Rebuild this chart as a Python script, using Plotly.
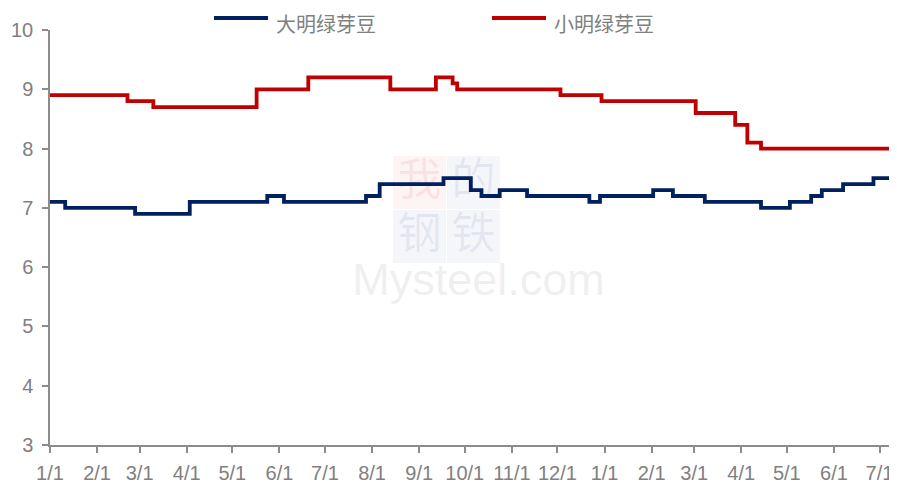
import plotly.graph_objects as go

# ---- data ----
big_dates = ["2022-01-01", "2022-01-11", "2022-02-26", "2022-04-03", "2022-05-24", "2022-06-04",
             "2022-07-28", "2022-08-06", "2022-09-17", "2022-10-05", "2022-10-12", "2022-10-24",
             "2022-11-11", "2022-12-22", "2022-12-29", "2023-02-02", "2023-02-15", "2023-03-08",
             "2023-04-14", "2023-05-03", "2023-05-17", "2023-05-24", "2023-06-07", "2023-06-27",
             "2023-07-12"]
big_values = [7.1, 7.0, 6.9, 7.1, 7.2, 7.1,
              7.2, 7.4, 7.5, 7.3, 7.2, 7.3,
              7.2, 7.1, 7.2, 7.3, 7.2, 7.1,
              7.0, 7.1, 7.2, 7.3, 7.4, 7.5,
              7.5]

small_dates = ["2022-01-01", "2022-02-21", "2022-03-10", "2022-05-17", "2022-06-20", "2022-08-13",
               "2022-09-12", "2022-09-23", "2022-09-26", "2022-12-03", "2022-12-30", "2023-03-02",
               "2023-03-28", "2023-04-05", "2023-04-14", "2023-07-12"]
small_values = [8.9, 8.8, 8.7, 9.0, 9.2, 9.0,
                9.2, 9.1, 9.0, 8.9, 8.8, 8.6,
                8.4, 8.1, 8.0, 8.0]

series_names = ["大明绿芽豆", "小明绿芽豆"]
series_colors = ["#002060", "#C00000"]

tick_dates = ["2022-01-01", "2022-02-01", "2022-03-01", "2022-04-01", "2022-05-01", "2022-06-01",
              "2022-07-01", "2022-08-01", "2022-09-01", "2022-10-01", "2022-11-01", "2022-12-01",
              "2023-01-01", "2023-02-01", "2023-03-01", "2023-04-01", "2023-05-01", "2023-06-01",
              "2023-07-01"]
tick_labels = ["1/1", "2/1", "3/1", "4/1", "5/1", "6/1", "7/1", "8/1", "9/1", "10/1", "11/1", "12/1",
               "1/1", "2/1", "3/1", "4/1", "5/1", "6/1", "7/1"]

x_range = ["2022-01-01", "2023-07-12 12:00"]
y_range = [3, 10]

GRAY = "#808080"
OFF = 8                      # default page body margin
W, H = 897 - OFF, 487 - OFF
L, T = 50 - OFF, 30 - OFF
B = H - (445 - OFF)
PW, PH = W - L, H - T - B


def px_x(p):                 # window pixel -> paper x
    return (p - OFF - L) / PW


def px_y(p):                 # window pixel -> paper y
    return (H - B - (p - OFF)) / PH


fig = go.Figure()
fig.add_trace(go.Scatter(x=big_dates, y=big_values, mode="lines", name=series_names[0],
                         line=dict(color=series_colors[0], width=3.8, shape="hv")))
fig.add_trace(go.Scatter(x=small_dates, y=small_values, mode="lines", name=series_names[1],
                         line=dict(color=series_colors[1], width=3.8, shape="hv")))

# faint watermark (below traces)
wm = [
    ("我", 0, 0, "rgba(230,60,60,0.06)", "rgba(230,60,60,0.10)"),
    ("的", 1, 0, "rgba(60,80,150,0.05)", "rgba(60,80,150,0.09)"),
    ("钢", 0, 1, "rgba(60,80,150,0.05)", "rgba(60,80,150,0.09)"),
    ("铁", 1, 1, "rgba(60,80,150,0.05)", "rgba(60,80,150,0.09)"),
]
x0p, y0p, cell = 393, 156, 54
for ch, cx, cy, fill, tc in wm:
    xa = x0p + cx * cell
    ya = y0p + cy * cell
    fig.add_shape(type="rect", xref="paper", yref="paper", layer="below",
                  x0=px_x(xa), x1=px_x(xa + cell - 1),
                  y0=px_y(ya + cell - 1), y1=px_y(ya),
                  fillcolor=fill, line=dict(width=0),
                  label=dict(text=ch, font=dict(size=44, color=tc, family="Noto Sans CJK SC")))
fig.add_shape(type="rect", xref="paper", yref="paper", layer="below",
              x0=px_x(355), x1=px_x(602), y0=px_y(305), y1=px_y(245),
              fillcolor="rgba(0,0,0,0)", line=dict(width=0),
              label=dict(text="Mysteel.com", font=dict(size=45, color="rgba(200,200,200,0.28)",
                                                      family="Liberation Sans")))

# legend drawn at the top (line sample + label per series)
legend_line_x = [(214, 268), (492, 546)]
legend_text_x = [275, 553]
for (lx0, lx1), tx, name, col in zip(legend_line_x, legend_text_x, series_names, series_colors):
    fig.add_shape(type="line", xref="paper", yref="paper",
                  x0=px_x(lx0), x1=px_x(lx1), y0=px_y(18), y1=px_y(18),
                  line=dict(color=col, width=3.8))
    fig.add_annotation(xref="paper", yref="paper", x=px_x(tx), y=px_y(OFF),
                       xanchor="left", yanchor="top", showarrow=False, text=name,
                       font=dict(size=20, color=GRAY, family="Noto Sans CJK SC"),
                       borderpad=0)

fig.update_layout(
    width=W, height=H,
    margin=dict(l=L, r=0, t=T, b=B, autoexpand=False),
    paper_bgcolor="white", plot_bgcolor="white",
    font=dict(family="Liberation Sans, Arial, sans-serif", color=GRAY),
    showlegend=False,
    xaxis=dict(type="date", range=x_range, tickvals=tick_dates, ticktext=tick_labels,
               showgrid=False, zeroline=False, showline=True, linecolor="#8c8c8c", linewidth=1.5,
               ticks="outside", ticklen=6, tickcolor="#8c8c8c", tickwidth=1.5, automargin=False,
               ticklabelstandoff=3, tickfont=dict(size=20, color=GRAY), tickangle=0),
    yaxis=dict(range=y_range, dtick=1, showgrid=False, zeroline=False, showline=True,
               linecolor="#8c8c8c", linewidth=1.5, ticks="outside", ticklen=6, automargin=False,
               ticklabelstandoff=5, tickcolor="#8c8c8c", tickwidth=1.5,
               tickfont=dict(size=20, color=GRAY)),
)

fig.write_html("out.html")
